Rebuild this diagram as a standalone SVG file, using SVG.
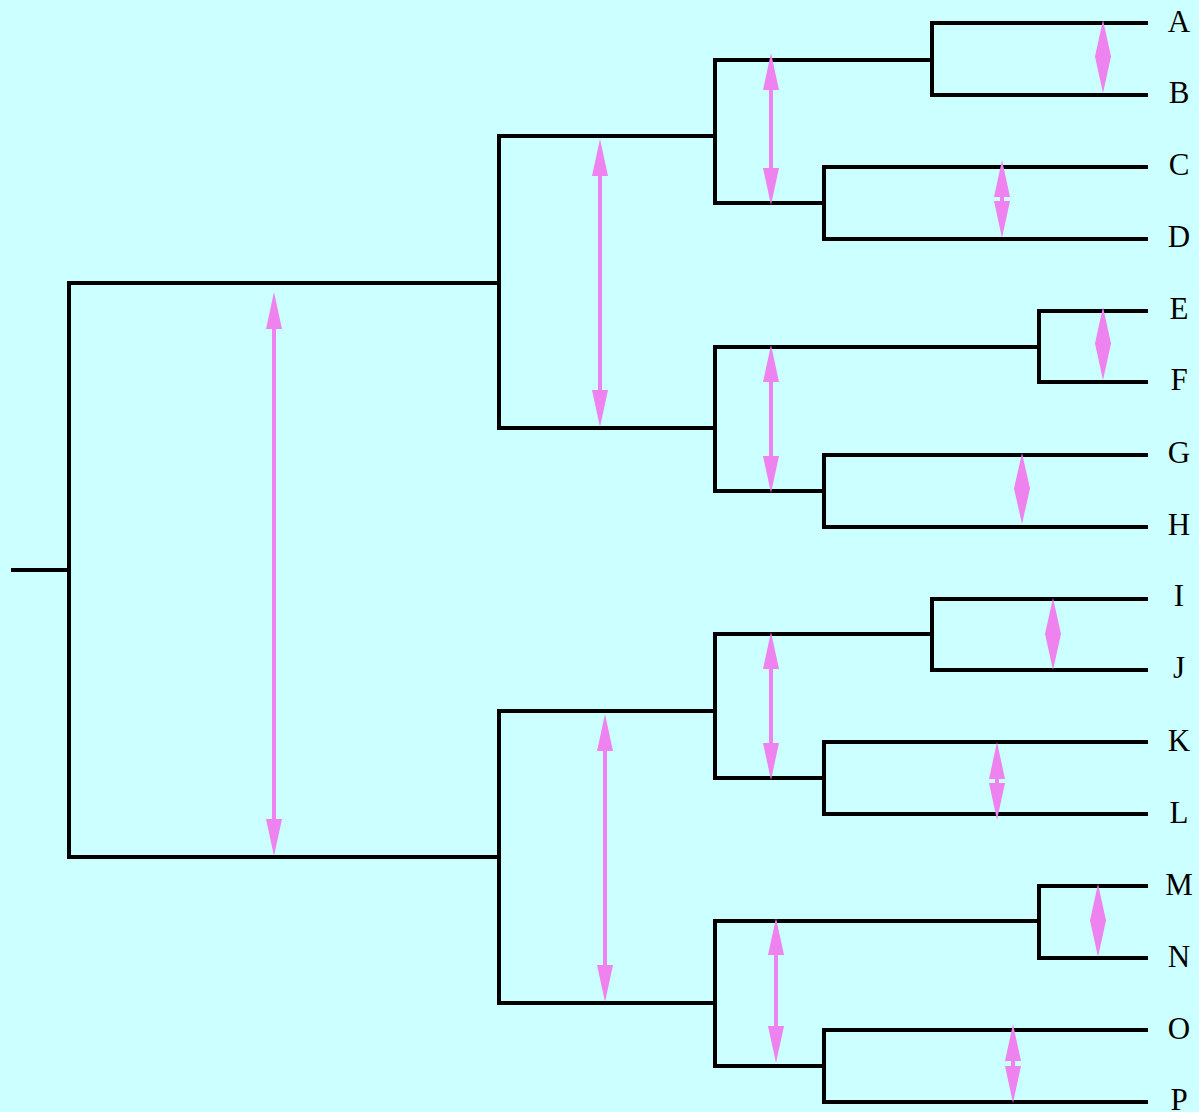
<svg xmlns="http://www.w3.org/2000/svg" width="1199" height="1112" viewBox="0 0 1199 1112">
<style>
.br{fill:none;stroke:#000;stroke-width:4;stroke-linecap:square}
.ar{fill:#EE82EE;stroke:none}
.lb{font-family:"Liberation Serif","Times New Roman",serif;font-size:31px;fill:#000;text-anchor:middle}
</style>
<rect x="0" y="0" width="1199" height="1112" fill="#CCFFFF"/>
<g id="connectors">
<path class="br" d="M13,570H69M69,283V857M69,283H499M69,857H499"/>
<path class="br" d="M499,136V428M499,136H715M499,428H715"/>
<path class="br" d="M715,60V203M715,60H932M715,203H824"/>
<path class="br" d="M932,23V95M932,23H1146M932,95H1146"/>
<path class="br" d="M824,167V239M824,167H1146M824,239H1146"/>
<path class="br" d="M715,347V491M715,347H1039M715,491H824"/>
<path class="br" d="M1039,311V382M1039,311H1146M1039,382H1146"/>
<path class="br" d="M824,455V527M824,455H1146M824,527H1146"/>
<path class="br" d="M499,711V1003M499,711H715M499,1003H715"/>
<path class="br" d="M715,634V778M715,634H932M715,778H824"/>
<path class="br" d="M932,599V670M932,599H1146M932,670H1146"/>
<path class="br" d="M824,742V814M824,742H1146M824,814H1146"/>
<path class="br" d="M715,921V1066M715,921H1039M715,1066H824"/>
<path class="br" d="M1039,886V958M1039,886H1146M1039,958H1146"/>
<path class="br" d="M824,1030V1102M824,1030H1146M824,1102H1146"/>
</g>
<g id="arrows">
<path class="ar" d="M274,292L282,329H276V819H282L274,856L266,819H272V329H266Z"/>
<path class="ar" d="M600,139L608,176H602V390H608L600,427L592,390H598V176H592Z"/>
<path class="ar" d="M771,53L779,90H773V168H779L771,205L763,168H769V90H763Z"/>
<path class="ar" d="M1103,20L1111,56.5L1103,93L1095,56.5Z"/>
<path class="ar" d="M1002,160L1010,197H1004V201H1010L1002,238L994,201H1000V197H994Z"/>
<path class="ar" d="M771,345L779,382H773V456H779L771,493L763,456H769V382H763Z"/>
<path class="ar" d="M1103,307L1111,343.5L1103,380L1095,343.5Z"/>
<path class="ar" d="M1022,453L1030,488.5L1022,524L1014,488.5Z"/>
<path class="ar" d="M771,632L779,669H773V743H779L771,780L763,743H769V669H763Z"/>
<path class="ar" d="M1053,598L1061,634L1053,670L1045,634Z"/>
<path class="ar" d="M997,742L1005,779H999V783H1005L997,820L989,783H995V779H989Z"/>
<path class="ar" d="M605,714L613,751H607V965H613L605,1002L597,965H603V751H597Z"/>
<path class="ar" d="M776,918L784,955H778V1026H784L776,1063L768,1026H774V955H768Z"/>
<path class="ar" d="M1098,884L1106,920.5L1098,957L1090,920.5Z"/>
<path class="ar" d="M1013,1024L1021,1061H1015V1066H1021L1013,1103L1005,1066H1011V1061H1005Z"/>
</g>
<g id="labels">
<g id="A"><text class="lb" x="1179" y="32">A</text></g>
<g id="B"><text class="lb" x="1179" y="103">B</text></g>
<g id="C"><text class="lb" x="1179" y="175">C</text></g>
<g id="D"><text class="lb" x="1179" y="247">D</text></g>
<g id="E"><text class="lb" x="1179" y="319">E</text></g>
<g id="F"><text class="lb" x="1179" y="390">F</text></g>
<g id="G"><text class="lb" x="1179" y="463">G</text></g>
<g id="H"><text class="lb" x="1179" y="535">H</text></g>
<g id="I"><text class="lb" x="1179" y="606">I</text></g>
<g id="J"><text class="lb" x="1179" y="678">J</text></g>
<g id="K"><text class="lb" x="1179" y="751">K</text></g>
<g id="L"><text class="lb" x="1179" y="823">L</text></g>
<g id="M"><text class="lb" x="1179" y="895">M</text></g>
<g id="N"><text class="lb" x="1179" y="967">N</text></g>
<g id="O"><text class="lb" x="1179" y="1039">O</text></g>
<g id="P"><text class="lb" x="1179" y="1110">P</text></g>
</g>
</svg>
